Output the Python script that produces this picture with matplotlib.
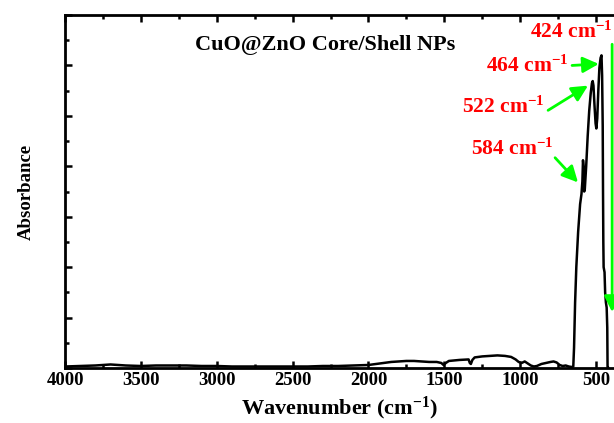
import matplotlib
matplotlib.use('Agg')
import matplotlib.pyplot as plt
from matplotlib.ticker import MultipleLocator

# FTIR spectrum of CuO@ZnO core/shell nanoparticles
wavenumber = [4000, 3900, 3800, 3700, 3600, 3500, 3400, 3300, 3200, 3100,
              3000, 2900, 2800, 2700, 2600, 2500, 2400, 2300, 2200, 2100,
              2000, 1950, 1900, 1850, 1800, 1750, 1700, 1650, 1600, 1550,
              1520, 1505, 1490, 1470, 1400, 1340, 1332, 1325, 1315, 1300,
              1250, 1200, 1150, 1100, 1060, 1030, 1010, 990, 970, 950,
              930, 910, 890, 860, 830, 800, 780, 760, 740, 720,
              700, 680, 660, 650, 645, 638, 630, 618, 605, 596,
              590, 586, 582, 578, 574, 565, 555, 545, 535, 527,
              522, 517, 510, 503, 498, 492, 485, 478, 470, 464,
              460, 456, 454, 452, 450, 444, 440, 435, 430, 426,
              424, 421]
absorbance = [0.03, 0.04, 0.05, 0.07, 0.05, 0.04, 0.05, 0.05, 0.05, 0.04,
              0.04, 0.03, 0.03, 0.03, 0.03, 0.03, 0.03, 0.04, 0.04, 0.05,
              0.06, 0.08, 0.10, 0.12, 0.13, 0.14, 0.14, 0.13, 0.12, 0.12,
              0.10, 0.06, 0.10, 0.14, 0.16, 0.17, 0.10, 0.08, 0.16, 0.21,
              0.23, 0.24, 0.25, 0.24, 0.22, 0.17, 0.12, 0.10, 0.13, 0.09,
              0.05, 0.03, 0.04, 0.08, 0.10, 0.12, 0.13, 0.11, 0.06, 0.04,
              0.05, 0.03, 0.02, 0.03, 0.40, 1.30, 2.00, 2.70, 3.25, 3.45,
              3.70, 4.12, 4.00, 3.50, 3.55, 4.00, 4.60, 5.10, 5.45, 5.65,
              5.69, 5.60, 5.20, 4.85, 4.75, 4.95, 5.50, 5.95, 6.15, 6.20,
              5.80, 4.80, 3.50, 2.50, 2.00, 1.90, 1.50, 1.30, 1.20, 0.80,
              0.00, 0.00]

# peak labels: (text position, arrow tail, arrow head) in data units
peak_labels = ['424 cm$^{-1}$', '464 cm$^{-1}$', '522 cm$^{-1}$', '584 cm$^{-1}$']
label_xy = [(665, 6.66), (955, 5.98), (1113, 5.17), (1054, 4.33)]
arrow_tail = [(394, 6.42), (658, 6.00), (816, 5.11), (770, 4.17)]
arrow_head = [(394, 1.11), (482, 6.03), (553, 5.60), (619, 3.68)]

plt.rcParams['font.family'] = 'serif'
plt.rcParams['font.serif'] = ['Liberation Serif', 'DejaVu Serif']
plt.rcParams['font.weight'] = 'bold'
plt.rcParams['mathtext.fontset'] = 'custom'
plt.rcParams['mathtext.rm'] = 'Liberation Serif:bold'
plt.rcParams['mathtext.it'] = 'Liberation Serif:bold'
plt.rcParams['mathtext.bf'] = 'Liberation Serif:bold'
plt.rcParams['mathtext.default'] = 'rm'

fig = plt.figure(figsize=(6.14, 4.23), dpi=100)
ax = fig.add_axes([0.1059, 0.130, 0.8945, 0.8345])

ax.plot(wavenumber, absorbance, color='black', lw=1.8, solid_joinstyle='round')

ax.set_xlim(4000, 380)
ax.set_ylim(0, 7)
ax.xaxis.set_major_locator(MultipleLocator(500))
ax.xaxis.set_minor_locator(MultipleLocator(250))
ax.yaxis.set_major_locator(MultipleLocator(1))
ax.yaxis.set_minor_locator(MultipleLocator(0.5))
ax.tick_params(which='both', direction='in', width=1.8, top=True, right=False)
ax.tick_params(which='major', length=5)
ax.tick_params(which='minor', length=3)
ax.tick_params(axis='y', labelleft=False)
ax.tick_params(axis='x', labelsize=13.5, pad=3)
for lbl in ax.get_xticklabels():
    lbl.set_fontweight('bold')

for side in ['left', 'bottom', 'top']:
    ax.spines[side].set_linewidth(2)
ax.spines['right'].set_visible(False)

ax.set_xlabel('Wavenumber (cm$^{-1}$)', fontsize=16, fontweight='bold', labelpad=4)
ax.set_ylabel('Absorbance', fontsize=13.5, fontweight='bold', labelpad=18)

ax.text(2286, 6.40, 'CuO@ZnO Core/Shell NPs', fontsize=16, fontweight='bold',
        ha='center', va='center')

for text, pos, tail, head in zip(peak_labels, label_xy, arrow_tail, arrow_head):
    ax.text(pos[0], pos[1], text, color='#ff0000', fontsize=15.5, fontweight='bold',
            ha='center', va='center')
    ax.annotate('', xy=head, xytext=tail,
                arrowprops=dict(arrowstyle='-|>,head_length=0.6,head_width=0.3',
                                color='#00ff00', lw=2, mutation_scale=16,
                                shrinkA=0, shrinkB=0))

fig.savefig('out.png', dpi=100)
